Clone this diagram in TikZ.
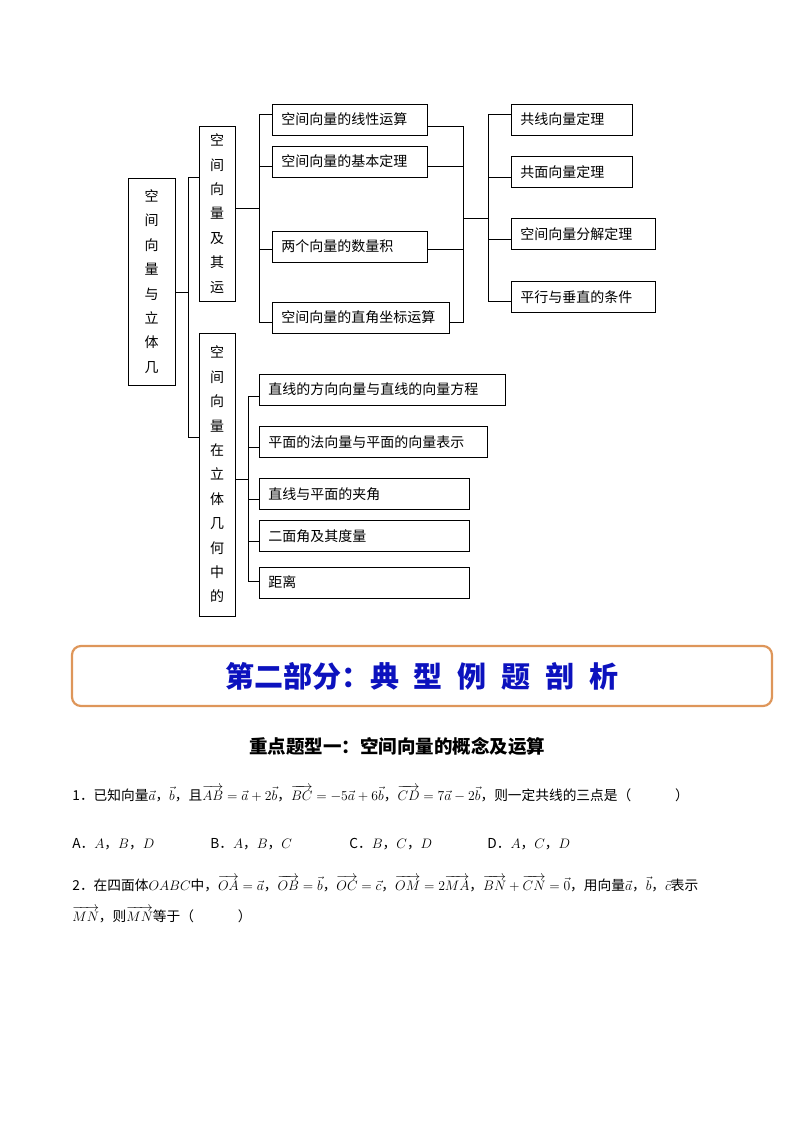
\documentclass[tikz,border=0pt]{standalone}
\usepackage{fix-cm}
\usepackage{amsmath}
\usepackage{fontspec}
\setmainfont{Noto Sans CJK SC}
\definecolor{bannerorange}{RGB}{222,150,90}
\definecolor{titleblue}{RGB}{12,18,190}
\tikzset{
	itembox/.style={draw, anchor=west, minimum height=31pt, inner xsep=9pt, inner ysep=0pt, align=left, font=\fontsize{14}{16}\selectfont},
	vbox/.style={draw, inner sep=0pt, align=center, font=\fontsize{14}{24.4}\selectfont},
	banner/.style={draw=bannerorange, line width=2.2pt, rounded corners=9pt, minimum width=700pt, minimum height=60pt},
	qtext/.style={anchor=base west, inner sep=0pt, font=\fontsize{13.7}{16}\selectfont}
}
\begin{document}
\begin{tikzpicture}[x=1pt, y=-1pt, line width=0.8pt]
			\useasboundingbox (0,0) rectangle (794,1123);
			
			% Các ô dọc
			\node[vbox, minimum width=47pt, minimum height=207pt] (root) at (151.5,281.5) {空\\间\\向\\量\\与\\立\\体\\几};
			\node[vbox, minimum width=36pt, minimum height=175pt] (ops) at (217,213.5) {空\\间\\向\\量\\及\\其\\运};
			\node[vbox, minimum width=36pt, minimum height=283pt] (geo) at (217,474.5) {空\\间\\向\\量\\在\\立\\体\\几\\何\\中\\的};
			
			% Nhánh trên
			\node[itembox, text width=137pt] (linop) at (272,119.5) {空间向量的线性运算};
			\node[itembox, text width=137pt] (basic) at (272,161.5) {空间向量的基本定理};
			\node[itembox, text width=137pt] (dot) at (272,246.5) {两个向量的数量积};
			\node[itembox, text width=159pt] (coord) at (272,317.5) {空间向量的直角坐标运算};
			
			\node[itembox, text width=103pt] (colin) at (511,119.5) {共线向量定理};
			\node[itembox, text width=103pt] (copl) at (511,172) {共面向量定理};
			\node[itembox, text width=126pt] (decomp) at (511,234) {空间向量分解定理};
			\node[itembox, text width=126pt] (parperp) at (511,297) {平行与垂直的条件};
			
			% Nhánh dưới
			\node[itembox, text width=228pt] (dirvec) at (259,389.5) {直线的方向向量与直线的向量方程};
			\node[itembox, text width=210pt] (normvec) at (259,442) {平面的法向量与平面的向量表示};
			\node[itembox, text width=192pt] (lineang) at (259,494) {直线与平面的夹角};
			\node[itembox, text width=192pt] (dihed) at (259,536) {二面角及其度量};
			\node[itembox, text width=192pt] (dist) at (259,582.5) {距离};
			
			% Đường nối gốc
			\coordinate (j0) at (188,292);
			\coordinate (j1) at (188,177);
			\coordinate (j2) at (188,437);
			\draw (j0 -| root.east) -- (j0);
			\draw (j1 -| ops.west) -- (j1) -- (j2) -- (j2 -| geo.west);
			
			% Đường nối nhánh trên
			\coordinate (k0) at (259,208);
			\coordinate (k1) at (259,114);
			\coordinate (k2) at (259,166);
			\coordinate (k3) at (259,249);
			\coordinate (k4) at (259,322);
			\draw (k0 -| ops.east) -- (k0);
			\draw (k1 -| linop.west) -- (k1) -- (k4) -- (k4 -| coord.west);
			\draw (k2) -- (k2 -| basic.west);
			\draw (k3) -- (k3 -| dot.west);
			
			\coordinate (m1) at (463,126);
			\coordinate (m2) at (463,166);
			\coordinate (m3) at (463,249);
			\coordinate (m4) at (463,322);
			\draw (m1 -| linop.east) -- (m1) -- (m4) -- (m4 -| coord.east);
			\draw (m2 -| basic.east) -- (m2);
			\draw (m3 -| dot.east) -- (m3);
			
			\coordinate (m0) at (463,218);
			\coordinate (n0) at (488,218);
			\coordinate (n1) at (488,114);
			\coordinate (n2) at (488,177);
			\coordinate (n3) at (488,239);
			\coordinate (n4) at (488,301);
			\draw (m0) -- (n0);
			\draw (n1 -| colin.west) -- (n1) -- (n4) -- (n4 -| parperp.west);
			\draw (n2) -- (n2 -| copl.west);
			\draw (n3) -- (n3 -| decomp.west);
			
			% Đường nối nhánh dưới
			\coordinate (p0) at (248,479);
			\coordinate (p1) at (248,396);
			\coordinate (p2) at (248,447);
			\coordinate (p3) at (248,499);
			\coordinate (p4) at (248,541);
			\coordinate (p5) at (248,581);
			\draw (p0 -| geo.east) -- (p0);
			\draw (p1 -| dirvec.west) -- (p1) -- (p5) -- (p5 -| dist.west);
			\draw (p2) -- (p2 -| normvec.west);
			\draw (p3) -- (p3 -| lineang.west);
			\draw (p4) -- (p4 -| dihed.west);
			
			% Khung tiêu đề
			\node[banner] (part) at (422,676) {\color{titleblue}\bfseries\fontsize{29}{32}\selectfont 第二部分：典\hspace{15pt}型\hspace{15pt}例\hspace{15pt}题\hspace{15pt}剖\hspace{15pt}析};
			
			\node (sec) at (397,746) {\bfseries\fontsize{18.5}{21}\selectfont 重点题型一：空间向量的概念及运算};
			
			% Câu hỏi
			\node[qtext] (q1) at (72,800) {1．已知向量$\vec a$，$\vec b$，且$\overrightarrow{AB}=\vec a+2\vec b$，$\overrightarrow{BC}=-5\vec a+6\vec b$，$\overrightarrow{CD}=7\vec a-2\vec b$，则一定共线的三点是（\hspace{3.2em}）};
			\node[qtext] (c1a) at (72,848) {A．$A$，$B$，$D$};
			\node[qtext] (c1b) at (210,848) {B．$A$，$B$，$C$};
			\node[qtext] (c1c) at (349,848) {C．$B$，$C$，$D$};
			\node[qtext] (c1d) at (487,848) {D．$A$，$C$，$D$};
			
			\node[qtext] (q2) at (72,890) {2．在四面体$OABC$中，$\overrightarrow{OA}=\vec a$，$\overrightarrow{OB}=\vec b$，$\overrightarrow{OC}=\vec c$，$\overrightarrow{OM}=2\overrightarrow{MA}$，$\overrightarrow{BN}+\overrightarrow{CN}=\vec 0$，用向量$\vec a$，$\vec b$，$\vec c$表示};
			\node[qtext] (q2b) at (72,921) {$\overrightarrow{MN}$，则$\overrightarrow{MN}$等于（\hspace{3.2em}）};
	\end{tikzpicture}
\end{document}
